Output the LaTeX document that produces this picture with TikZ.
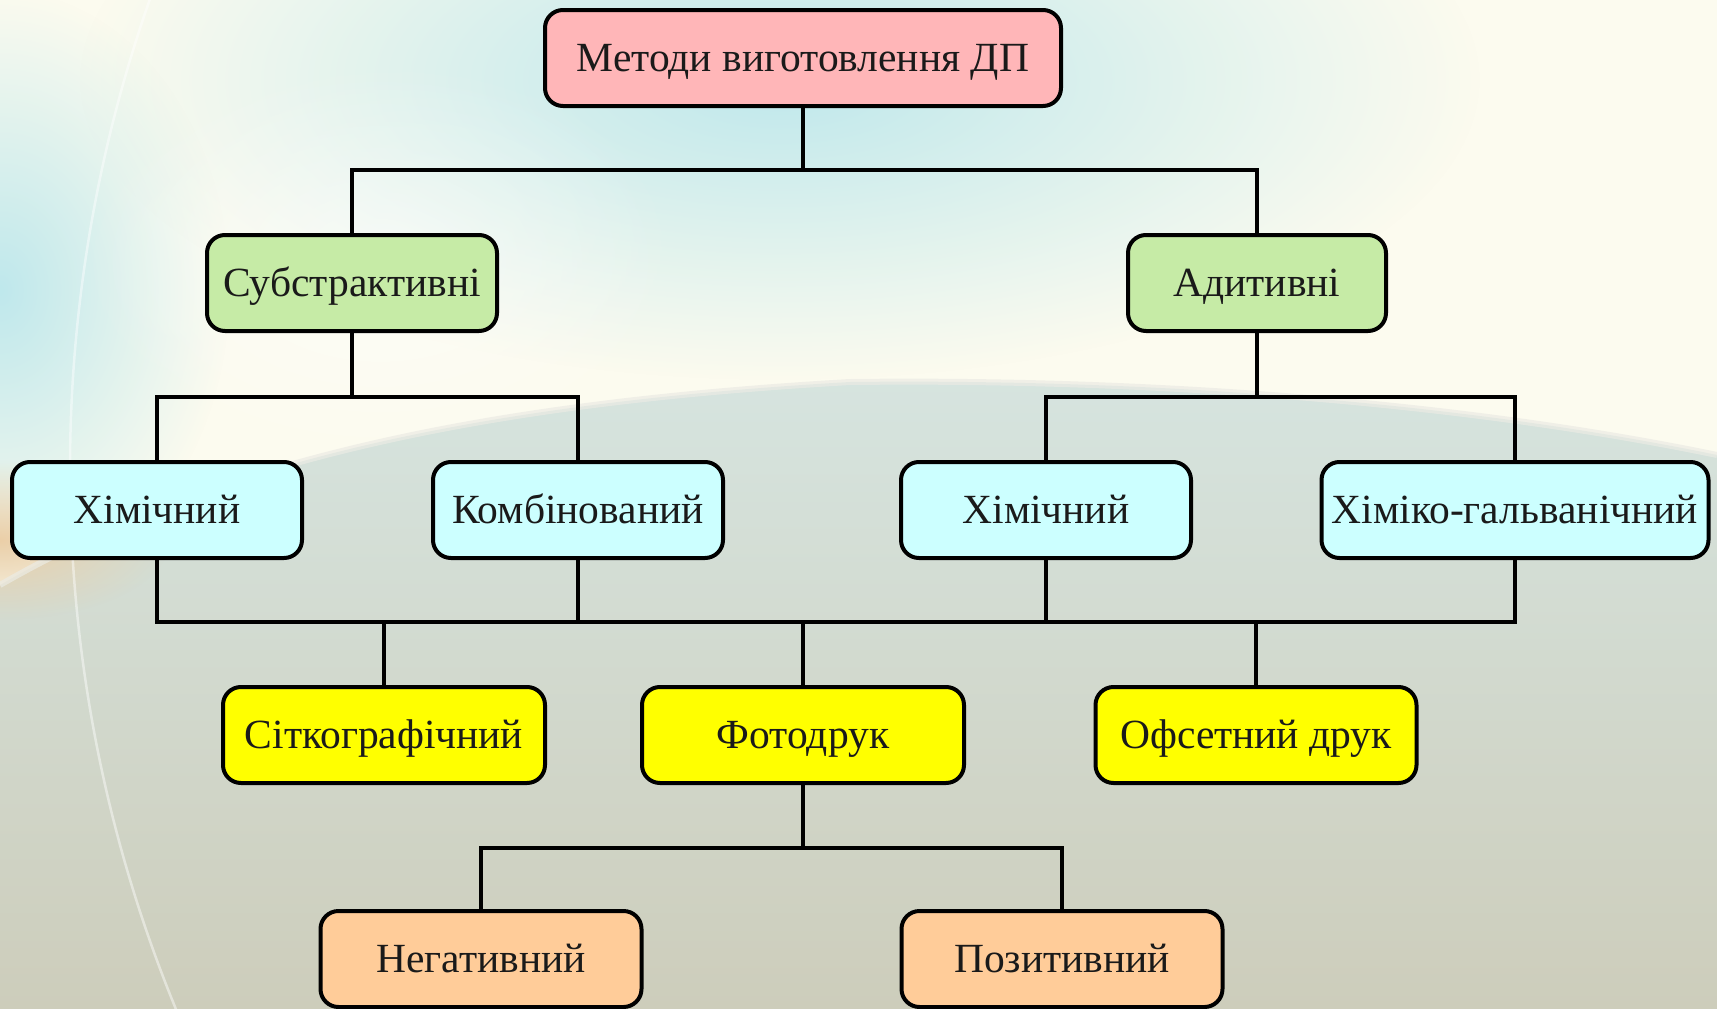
\documentclass[tikz,border=0pt]{standalone}
\usepackage{fontspec}
\setmainfont{Liberation Serif}
\usetikzlibrary{fadings}
\definecolor{pinkbox}{HTML}{FFB6B8}
\definecolor{greenbox}{HTML}{C6EBA6}
\definecolor{cyanbox}{HTML}{CCFFFF}
\definecolor{yellowbox}{HTML}{FFFF00}
\definecolor{peachbox}{HTML}{FFCC99}
\definecolor{cream}{HTML}{FCFBEF}
\definecolor{cyanglow}{HTML}{BFE8EC}
\definecolor{lowtop}{HTML}{D6E4DF}
\definecolor{lowbot}{HTML}{CDCDBB}
\definecolor{wedge}{HTML}{EBCFA8}
\definecolor{txt}{HTML}{1A1A1A}
\tikzfading[name=softglow, inner color=transparent!0, outer color=transparent!100]
\tikzset{
  box/.style={draw=black, line width=4pt, rounded corners=18pt,
    minimum height=96pt, inner sep=0pt, text=txt,
    text height=40pt, text depth=12.5pt,
    font=\fontsize{41.5}{46}\selectfont},
  conn/.style={draw=black, line width=3.5pt},
}
\begin{document}
\begin{tikzpicture}[x=1pt,y=-1pt]
\useasboundingbox (0,0) rectangle (1717,1009);
% background
\fill[cream] (0,0) rectangle (1717,1009);
\begin{scope}
\clip (0,0) rectangle (1717,1009);
\fill[cyanglow, path fading=softglow] (780,80) ellipse [x radius=700, y radius=300];
\fill[cyanglow, path fading=softglow] (0,290) ellipse [x radius=230, y radius=300];
\fill[white, opacity=0.5, path fading=softglow] (380,260) ellipse [x radius=300, y radius=200];
\shade[top color=lowtop, bottom color=lowbot]
  (0,585) .. controls (200,470) and (450,405) .. (850,382)
  .. controls (1200,378) and (1500,410) .. (1717,455)
  -- (1717,1009) -- (0,1009) -- cycle;
\fill[wedge, path fading=softglow] (0,540) ellipse [x radius=170, y radius=80];
\draw[white!60!lowbot, line width=6pt, opacity=0.7]
  (0,585) .. controls (200,470) and (450,405) .. (850,382)
  .. controls (1200,378) and (1500,410) .. (1717,455);
\draw[white, line width=2.5pt, opacity=0.45] (1490,470) circle [radius=1420];
\end{scope}
% nodes
\node[box, fill=pinkbox, minimum width=516pt] (top) at (803,58) {Методи виготовлення ДП};
\node[box, fill=greenbox, minimum width=290pt] (sub) at (352,283) {Субстрактивні};
\node[box, fill=greenbox, minimum width=258pt] (adi) at (1257,283) {Адитивні};
\node[box, fill=cyanbox, minimum width=290pt] (chl) at (157,510) {Хімічний};
\node[box, fill=cyanbox, minimum width=290pt] (komb) at (578,510) {Комбінований};
\node[box, fill=cyanbox, minimum width=290pt] (chr) at (1046,510) {Хімічний};
\node[box, fill=cyanbox, minimum width=387pt] (hg) at (1515,510) {Хіміко-гальванічний};
\node[box, fill=yellowbox, minimum width=322pt] (sitk) at (384,735) {Сіткографічний};
\node[box, fill=yellowbox, minimum width=322pt] (foto) at (803,735) {Фотодрук};
\node[box, fill=yellowbox, minimum width=321pt] (ofs) at (1256,735) {Офсетний друк};
\node[box, fill=peachbox, minimum width=321pt] (neg) at (481,959) {Негативний};
\node[box, fill=peachbox, minimum width=321pt] (poz) at (1062,959) {Позитивний};
% junctions
\coordinate (j1) at (803,170);
\coordinate (j2) at (352,397);
\coordinate (j3) at (1257,397);
\coordinate (b1) at (803,622);
\coordinate (j4) at (803,848);
% connectors
\draw[conn] (top.south) -- (j1);
\draw[conn] (sub.north) |- (j1) -| (adi.north);
\draw[conn] (sub.south) -- (j2);
\draw[conn] (chl.north) |- (j2) -| (komb.north);
\draw[conn] (adi.south) -- (j3);
\draw[conn] (chr.north) |- (j3) -| (hg.north);
\draw[conn] (chl.south) |- (b1) -| (hg.south);
\draw[conn] (komb.south) -- (komb.south |- b1);
\draw[conn] (chr.south) -- (chr.south |- b1);
\draw[conn] (b1) -- (foto.north);
\draw[conn] (sitk.north) -- (sitk.north |- b1);
\draw[conn] (ofs.north) -- (ofs.north |- b1);
\draw[conn] (foto.south) -- (j4);
\draw[conn] (neg.north) |- (j4) -| (poz.north);
\end{tikzpicture}
\end{document}
